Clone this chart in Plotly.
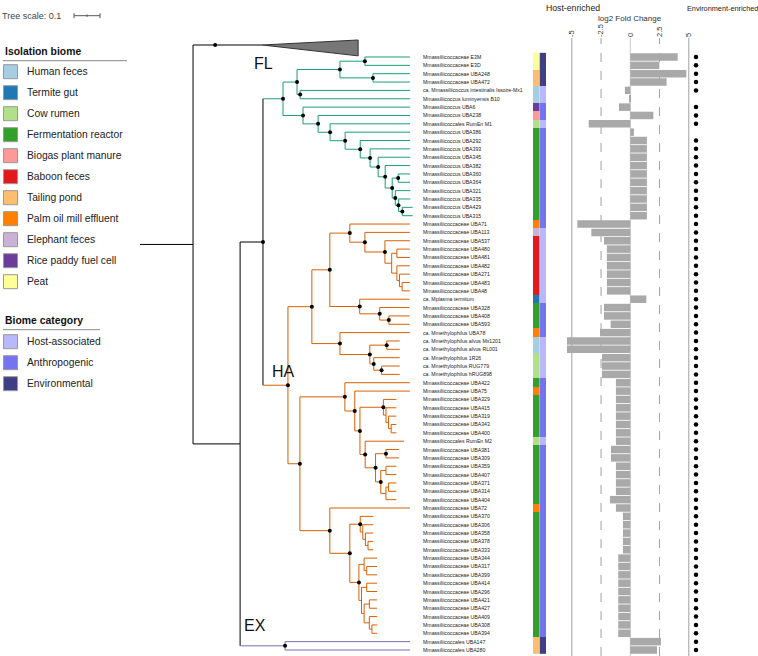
import plotly.graph_objects as go

# ---------------- data ----------------
leaf_names = [
    "Mmassiliicoccaceae E3M", "Mmassiliicoccaceae E3D", "Mmassiliicoccaceae UBA248", "Mmassiliicoccaceae UBA472",
    "ca. Mmassiliicoccus intestinalis Issoire-Mx1", "Mmassiliicoccus luminyensis B10", "Mmassiliicoccus UBA6",
    "Mmassiliicoccus UBA238", "Mmassiliicoccales RumEn M1", "Mmassiliicoccus UBA386", "Mmassiliicoccus UBA292",
    "Mmassiliicoccus UBA393", "Mmassiliicoccus UBA345", "Mmassiliicoccus UBA382", "Mmassiliicoccus UBA360",
    "Mmassiliicoccus UBA364", "Mmassiliicoccus UBA321", "Mmassiliicoccus UBA335", "Mmassiliicoccus UBA429",
    "Mmassiliicoccus UBA315", "Mmassiliicoccaceae UBA71", "Mmassiliicoccaceae UBA113", "Mmassiliicoccaceae UBA537",
    "Mmassiliicoccaceae UBA480", "Mmassiliicoccaceae UBA481", "Mmassiliicoccaceae UBA482", "Mmassiliicoccaceae UBA271",
    "Mmassiliicoccaceae UBA483", "Mmassiliicoccaceae UBA48", "ca. Mplasma termitum", "Mmassiliicoccaceae UBA328",
    "Mmassiliicoccaceae UBA408", "Mmassiliicoccaceae UBA593", "ca. Mmethylophilus UBA78",
    "ca. Mmethylophilus alvus Mx1201", "ca. Mmethylophilus alvus RL001", "ca. Mmethylophilus 1R26",
    "ca. Mmethylophilus RUG779", "ca. Mmethylophilus hRUG898", "Mmassiliicoccaceae UBA422",
    "Mmassiliicoccaceae UBA75", "Mmassiliicoccaceae UBA329", "Mmassiliicoccaceae UBA415", "Mmassiliicoccaceae UBA319",
    "Mmassiliicoccaceae UBA343", "Mmassiliicoccaceae UBA400", "Mmassiliicoccales RumEn M2",
    "Mmassiliicoccaceae UBA381", "Mmassiliicoccaceae UBA309", "Mmassiliicoccaceae UBA359", "Mmassiliicoccaceae UBA407",
    "Mmassiliicoccaceae UBA371", "Mmassiliicoccaceae UBA314", "Mmassiliicoccaceae UBA404", "Mmassiliicoccaceae UBA72",
    "Mmassiliicoccaceae UBA370", "Mmassiliicoccaceae UBA306", "Mmassiliicoccaceae UBA358", "Mmassiliicoccaceae UBA378",
    "Mmassiliicoccaceae UBA333", "Mmassiliicoccaceae UBA344", "Mmassiliicoccaceae UBA317", "Mmassiliicoccaceae UBA399",
    "Mmassiliicoccaceae UBA414", "Mmassiliicoccaceae UBA296", "Mmassiliicoccaceae UBA421", "Mmassiliicoccaceae UBA427",
    "Mmassiliicoccaceae UBA409", "Mmassiliicoccaceae UBA308", "Mmassiliicoccaceae UBA394",
    "Mmassiliicoccales UBA147", "Mmassiliicoccales UBA280",
]

biome_names = ["Human feces", "Termite gut", "Cow rumen", "Fermentation reactor", "Biogas plant manure",
               "Baboon feces", "Tailing pond", "Palm oil mill effluent", "Elephant feces",
               "Rice paddy fuel cell", "Peat"]
biome_colors = ["#a6cee3", "#1f78b4", "#b2df8a", "#33a02c", "#fb9a99", "#e31a1c", "#fdbf6f", "#ff7f00",
                "#cab2d6", "#6a3d9a", "#ffff99"]
category_names = ["Host-associated", "Anthropogenic", "Environmental"]
category_colors = ["#b8b8fb", "#7474f0", "#3f3f85"]

leaf_biome = [
    "Peat", "Peat", "Tailing pond", "Tailing pond", "Human feces", "Human feces", "Rice paddy fuel cell",
    "Biogas plant manure", "Cow rumen",
    "Fermentation reactor", "Fermentation reactor", "Fermentation reactor", "Fermentation reactor",
    "Fermentation reactor", "Fermentation reactor", "Fermentation reactor", "Fermentation reactor",
    "Fermentation reactor", "Fermentation reactor", "Fermentation reactor",
    "Palm oil mill effluent", "Elephant feces",
    "Baboon feces", "Baboon feces", "Baboon feces", "Baboon feces", "Baboon feces", "Baboon feces", "Baboon feces",
    "Termite gut", "Fermentation reactor", "Fermentation reactor", "Fermentation reactor", "Palm oil mill effluent",
    "Human feces", "Human feces", "Cow rumen", "Cow rumen", "Cow rumen",
    "Fermentation reactor", "Palm oil mill effluent", "Fermentation reactor", "Fermentation reactor",
    "Fermentation reactor", "Fermentation reactor", "Fermentation reactor", "Cow rumen",
    "Fermentation reactor", "Fermentation reactor", "Fermentation reactor", "Fermentation reactor",
    "Fermentation reactor", "Fermentation reactor", "Fermentation reactor", "Palm oil mill effluent",
    "Fermentation reactor", "Fermentation reactor", "Fermentation reactor", "Fermentation reactor",
    "Fermentation reactor", "Fermentation reactor", "Fermentation reactor", "Fermentation reactor",
    "Fermentation reactor", "Fermentation reactor", "Fermentation reactor", "Fermentation reactor",
    "Fermentation reactor", "Fermentation reactor", "Fermentation reactor",
    "Tailing pond", "Tailing pond",
]

leaf_category = (
    ["Environmental"] * 4 + ["Host-associated"] * 2 + ["Anthropogenic"] * 2 + ["Host-associated"]
    + ["Anthropogenic"] * 12 + ["Host-associated"] * 9 + ["Anthropogenic"] * 4 + ["Host-associated"] * 5
    + ["Anthropogenic"] * 7 + ["Host-associated"] + ["Anthropogenic"] * 23 + ["Environmental"] * 2
)

log2_fold_change = [
    4.05, 2.48, 4.79, 3.10, -0.46, -0.11, -0.97, 1.97, -3.56, 0.31,
    1.42, 1.42, 1.42, 1.42, 1.42, 1.42, 1.42, 1.42, 1.42, 1.42,
    -4.53, -3.33, -2.25, -2.00, -2.00, -2.00, -2.00, -2.00, -2.00, 1.37,
    -2.25, -2.25, -1.68, -2.59, -5.41, -5.41, -2.42, -2.42, -2.42, -1.23,
    -1.23, -1.23, -1.23, -1.23, -1.23, -1.23, -1.23, -1.65, -1.65, -1.23,
    -1.23, -1.23, -1.23, -1.74, -1.23, -0.63, -0.63, -0.63, -0.63, -0.63,
    -1.03, -1.03, -1.03, -1.03, -1.03, -1.03, -1.03, -1.03, -1.03, -1.03,
    2.62, 2.28,
]

significant = [True] * 72
significant[5] = False
significant[9] = False

# phylogeny (Newick, branch lengths in substitutions/site); leaves = row numbers,
# '*' marks supported nodes, FL/HA/EX mark clades, OUT = collapsed outgroup
tree_newick = (
    "((OUT:0.181)*:0.085,"
    "((("
    "(((1:0.173,2:0.173)*:0.096,(3:0.142,4:0.142)*:0.127)*:0.165,(5:0.423,6:0.423)*:0.012)*:0.054,"
    "(7:0.412,(8:0.354,(9:0.308,(10:0.25,(11:0.192,(12:0.154,(13:0.123,(14:0.096,"
    "((15:0.046,16:0.046)*:0.023,(17:0.058,(18:0.046,(19:0.04,20:0.04)*:0.015)*:0.012)*:0.012)*:0.027"
    ")*:0.027)*:0.031)*:0.038)*:0.058)*:0.058)*:0.046)*:0.058)*:0.077"
    ")FL*:0.077,"
    "((((21:0.231,(22:0.173,(23:0.096,((24:0.05,25:0.05):0.02,(26:0.05,(27:0.04,(28:0.03,29:0.03):0.01):0.01):0.02):0.026)*:0.077)*:0.058)*:0.077,"
    "(30:0.192,(31:0.115,(32:0.08,33:0.08)*:0.035)*:0.077)*:0.115)*:0.069,"
    "(34:0.269,((35:0.05,36:0.05)*:0.065,(37:0.1,(38:0.07,39:0.07)*:0.03)*:0.015)*:0.115)*:0.108)*:0.092,"
    "((40:0.25,(41:0.212,((42:0.05,(43:0.04,(44:0.03,(45:0.02,46:0.02):0.01):0.01):0.01)*:0.09,"
    "(47:0.15,((48:0.05,49:0.05)*:0.04,((50:0.04,51:0.04):0.02,((52:0.03,53:0.03):0.01,54:0.04):0.02)*:0.02)*:0.04)*:0.02)*:0.02)*:0.038)*:0.173,"
    "(55:0.308,((56:0.05,(57:0.04,(58:0.03,(59:0.02,60:0.02):0.01):0.01):0.01)*:0.04,"
    "((61:0.05,(62:0.04,63:0.04):0.01):0.02,((64:0.04,65:0.04):0.02,((66:0.03,67:0.03):0.02,(68:0.03,(69:0.02,70:0.02):0.01):0.02):0.01):0.01)*:0.035)*:0.077)*:0.115)*:0.046"
    ")HA*:0.096"
    ")*:0.088,"
    "(71:0.481,72:0.481)EX*:0.173"
    "):0.181"
    "):0.204;"
)
collapsed_depth = 0.369   # length of collapsed outgroup wedge

# ---------------- geometry helpers ----------------
W, H = 758, 656
ROW0_PX, ROW_STEP = 57.0, 8.352          # row 1 centre and row pitch in pixels
TREE_X0_PX, TREE_PX_PER_UNIT = 140.0, 260.0
FC_ZERO_PX, FC_PX_PER_UNIT = 630.3, 11.7


def row_of_px(py):
    return 1 + (py - ROW0_PX) / ROW_STEP


def tree_of_px(px):
    return (px - TREE_X0_PX) / TREE_PX_PER_UNIT


def fc_of_px(px):
    return (px - FC_ZERO_PX) / FC_PX_PER_UNIT


def parse_newick(s):
    s = s.strip().rstrip(";")
    pos = 0

    def node():
        nonlocal pos
        children = []
        if s[pos] == "(":
            pos += 1
            children.append(node())
            while s[pos] == ",":
                pos += 1
                children.append(node())
            pos += 1
        start = pos
        while pos < len(s) and s[pos] not in ":,()":
            pos += 1
        label = s[start:pos]
        length = 0.0
        if pos < len(s) and s[pos] == ":":
            pos += 1
            start = pos
            while pos < len(s) and s[pos] not in ",()":
                pos += 1
            length = float(s[start:pos])
        return {"children": children, "label": label, "length": length}

    return node()


OUT_ROW = row_of_px(45)

tree = parse_newick(tree_newick)


def layout(n, depth, clade):
    n["px"] = depth
    n["x"] = depth + n["length"]
    for tag in ("FL", "HA", "EX"):
        if tag in n["label"]:
            clade = tag
    n["clade"] = clade
    if n["children"]:
        for c in n["children"]:
            layout(c, n["x"], clade)
        ys = [c["y"] for c in n["children"]]
        n["y"] = (min(ys) + max(ys)) / 2
    else:
        n["y"] = OUT_ROW if n["label"] == "OUT" else float(n["label"])


layout(tree, 0.0, None)

clade_colors = {None: "#000000", "FL": "#1b9e77", "HA": "#d95f02", "EX": "#7570b3"}
segs = {k: ([], []) for k in clade_colors}
dots_x, dots_y = [], []
nodes = []


def walk(n):
    nodes.append(n)
    xs, ys = segs[n["clade"]]
    xs += [n["px"], n["x"], None]
    ys += [n["y"], n["y"], None]
    if n["children"]:
        cy = [c["y"] for c in n["children"]]
        xs += [n["x"], n["x"], None]
        ys += [min(cy), max(cy), None]
        for c in n["children"]:
            walk(c)
    if "*" in n["label"]:
        dots_x.append(n["x"])
        dots_y.append(n["y"])


walk(tree)

fig = go.Figure()

for k, (xs, ys) in segs.items():
    fig.add_trace(go.Scatter(x=xs, y=ys, mode="lines", line=dict(color=clade_colors[k], width=1),
                             hoverinfo="skip", xaxis="x", yaxis="y"))

# collapsed outgroup wedge
out = [n for n in nodes if n["label"] == "OUT"][0]
fig.add_trace(go.Scatter(
    x=[out["x"], out["x"] + collapsed_depth, out["x"] + collapsed_depth, out["x"]],
    y=[out["y"], out["y"] - 0.6, out["y"] + 1.3, out["y"]],
    mode="lines", fill="toself", fillcolor="#777777", line=dict(color="#333333", width=1),
    hoverinfo="skip", xaxis="x", yaxis="y"))

fig.add_trace(go.Scatter(x=dots_x, y=dots_y, mode="markers", marker=dict(color="black", size=4),
                         hoverinfo="skip", xaxis="x", yaxis="y"))

rows = list(range(1, 73))

# leaf labels
LABEL_X = tree_of_px(421.5)
for r, name in zip(rows, leaf_names):
    fig.add_annotation(x=LABEL_X, y=r, xref="x", yref="y", text=name, showarrow=False,
                       xanchor="left", yanchor="middle", borderpad=0,
                       font=dict(size=5.2, color="#222222", family="Arial, Liberation Sans"))


def step_scale(colors):
    n = len(colors)
    sc = []
    for i, c in enumerate(colors):
        sc += [[i / n, c], [(i + 1) / n, c]]
    return sc


fig.add_trace(go.Heatmap(
    x=[0], y=rows, z=[[biome_names.index(b)] for b in leaf_biome],
    colorscale=step_scale(biome_colors), zmin=-0.5, zmax=len(biome_colors) - 0.5,
    showscale=False, hoverinfo="skip", xaxis="x3", yaxis="y"))
fig.add_trace(go.Heatmap(
    x=[0], y=rows, z=[[category_names.index(c)] for c in leaf_category],
    colorscale=step_scale(category_colors), zmin=-0.5, zmax=len(category_colors) - 0.5,
    showscale=False, hoverinfo="skip", xaxis="x4", yaxis="y"))

# bars
fig.add_trace(go.Bar(x=log2_fold_change, y=rows, orientation="h", width=0.9,
                     marker=dict(color="#a9a9a9", line=dict(width=0)),
                     hoverinfo="skip", xaxis="x2", yaxis="y2"))
SIG_X = fc_of_px(696)
fig.add_trace(go.Scatter(x=[SIG_X for s in significant if s], y=[r for r, s in zip(rows, significant) if s],
                         mode="markers", marker=dict(color="black", size=4.5),
                         hoverinfo="skip", xaxis="x2", yaxis="y2"))

fc_ticks = [-5, -2.5, 0, 2.5, 5]
BAR_TOP_PX = 38
for v in fc_ticks:
    fig.add_shape(type="line", xref="x2", yref="paper", x0=v, x1=v, y0=0, y1=1 - BAR_TOP_PX / H,
                  line=dict(color="#a0a0a0" if v != 0 else "#c8c8c8", width=1,
                            dash="dash" if abs(v) == 2.5 else "solid"), layer="below")

# ---------------- legend ----------------
FONT = "Arial, Liberation Sans"


def PX(x):
    return x / W


def PY(y):
    return 1 - y / H


def legend_block(title, title_y, line_x1, names, colors, first_y):
    fig.add_annotation(x=PX(3), y=PY(title_y), xref="paper", yref="paper", text="<b>%s</b>" % title,
                       showarrow=False, xanchor="left", yanchor="middle",
                       font=dict(size=10.4, color="#111111", family=FONT))
    fig.add_shape(type="line", xref="paper", yref="paper", x0=PX(3), x1=PX(line_x1),
                  y0=PY(title_y + 9), y1=PY(title_y + 9), line=dict(color="#888888", width=1))
    for i, (nm, c) in enumerate(zip(names, colors)):
        yc = first_y + 21 * i
        fig.add_shape(type="rect", xref="paper", yref="paper", x0=PX(3.5), x1=PX(17.5),
                      y0=PY(yc - 7), y1=PY(yc + 7), fillcolor=c, line=dict(color="#999999", width=1))
        fig.add_annotation(x=PX(25), y=PY(yc), xref="paper", yref="paper", text=nm, showarrow=False,
                           xanchor="left", yanchor="middle", font=dict(size=10.3, color="#222222", family=FONT))


legend_block("Isolation biome", 51.7, 127, biome_names, biome_colors, 71.7)
legend_block("Biome category", 320.7, 100, category_names, category_colors, 341.7)

# tree scale
fig.add_annotation(x=PX(0), y=PY(15.7), xref="paper", yref="paper", text="Tree scale: 0.1", showarrow=False,
                   xanchor="left", yanchor="middle", font=dict(size=9, color="#444444", family=FONT))
sx0 = tree_of_px(74)
sy = row_of_px(15.7)
fig.add_trace(go.Scatter(x=[sx0, sx0 + 0.1, None, sx0, sx0, None, sx0 + 0.1, sx0 + 0.1, None, sx0 + 0.05, sx0 + 0.05],
                         y=[sy, sy, None, sy - 0.3, sy + 0.3, None, sy - 0.3, sy + 0.3, None, sy - 0.15, sy + 0.15],
                         mode="lines", line=dict(color="#555555", width=1), hoverinfo="skip",
                         xaxis="x", yaxis="y"))

# clade labels
for txt, (cx, cy) in {"FL": (263, 63), "HA": (283, 372), "EX": (255, 625)}.items():
    fig.add_annotation(x=PX(cx), y=PY(cy), xref="paper", yref="paper", text=txt, showarrow=False,
                       xanchor="center", yanchor="middle", font=dict(size=16, color="#111111", family=FONT))

# bar headers
fig.add_annotation(x=0, y=PY(19), xref="x2", yref="paper", text="log2 Fold Change", showarrow=False,
                   xanchor="center", yanchor="middle", font=dict(size=8, color="#333333", family=FONT))
fig.add_annotation(x=PX(573), y=PY(8), xref="paper", yref="paper", text="Host-enriched", showarrow=False,
                   xanchor="center", yanchor="middle", font=dict(size=8.7, color="#222222", family=FONT))
fig.add_annotation(x=PX(722), y=PY(8), xref="paper", yref="paper", text="Environment-enriched",
                   showarrow=False, xanchor="center", yanchor="middle",
                   font=dict(size=7.3, color="#222222", family=FONT))

Y_RANGE = [row_of_px(H), row_of_px(0)]
Y2_RANGE = [row_of_px(H), row_of_px(BAR_TOP_PX)]
BAR_L, BAR_R = 560, 700

fig.update_layout(
    width=W, height=H, margin=dict(l=0, r=0, t=0, b=0), showlegend=False,
    paper_bgcolor="white", plot_bgcolor="rgba(0,0,0,0)", bargap=0.1,
    font=dict(family=FONT),
    xaxis=dict(domain=[0, 1], range=[tree_of_px(0), tree_of_px(W)], visible=False, anchor="y"),
    yaxis=dict(domain=[0, 1], range=Y_RANGE, visible=False, anchor="x"),
    xaxis2=dict(domain=[PX(BAR_L), PX(BAR_R)], range=[fc_of_px(BAR_L), fc_of_px(BAR_R)], anchor="y2",
                side="top", tickvals=fc_ticks, ticktext=["-5", "-2.5", "0", "2.5", "5"], tickangle=-90,
                showgrid=False, zeroline=False, showline=False, ticks="",
                tickfont=dict(size=7.5, color="#333333", family=FONT)),
    yaxis2=dict(domain=[0, 1 - BAR_TOP_PX / H], range=Y2_RANGE, visible=False, anchor="x2"),
    xaxis3=dict(domain=[PX(533), PX(539.5)], range=[-0.5, 0.5], visible=False, anchor="y"),
    xaxis4=dict(domain=[PX(539.5), PX(546)], range=[-0.5, 0.5], visible=False, anchor="y"),
)

fig.write_html("out.html", config={"displayModeBar": False},
               post_script="document.body.style.margin='0px';document.body.style.padding='0px';")
